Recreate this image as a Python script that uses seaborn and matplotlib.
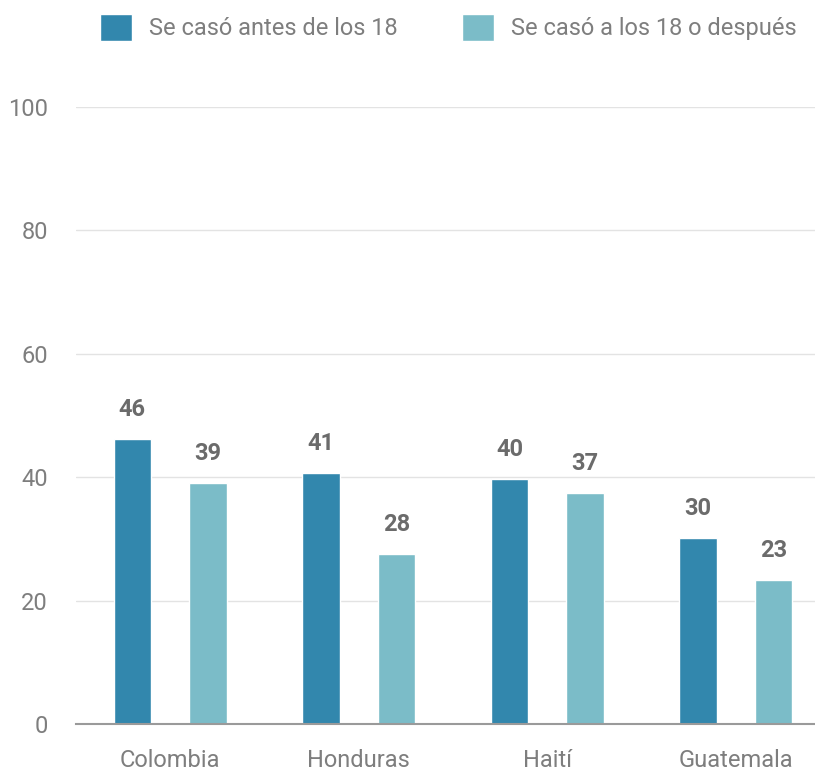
import pandas as pd
import matplotlib
matplotlib.use('Agg')
import matplotlib.pyplot as plt
import seaborn as sns

countries = ['Colombia', 'Honduras', 'Haití', 'Guatemala']
before_18 = [46.2, 40.7, 39.7, 30.1]
after_18 = [39.0, 27.6, 37.4, 23.3]
series = ['Se casó antes de los 18', 'Se casó a los 18 o después']
colors = ['#3287ad', '#7bbcc8']

df = pd.DataFrame({
    'pais': countries * 2,
    'valor': before_18 + after_18,
    'grupo': [series[0]] * 4 + [series[1]] * 4,
})

sns.set_theme(style='white')
plt.rcParams['font.family'] = ['Roboto', 'DejaVu Sans']

fig = plt.figure(figsize=(8.15, 7.73), dpi=100)
ax = fig.add_axes([0.093, 0.0634, 0.907, 0.7982])

sns.barplot(data=df, x='pais', y='valor', hue='grupo', order=countries,
            hue_order=series, palette=colors, width=0.8, gap=0.5,
            saturation=1, ax=ax)

# value labels on top of each bar
for cont in ax.containers:
    labels = [f'{round(v.get_height()):.0f}' for v in cont]
    ax.bar_label(cont, labels=labels, padding=13, fontsize=17,
                 fontweight='bold', color='#6b6b6b')

ax.set_ylim(0, 100)
ax.set_xlim(-0.5, 3.42)
ax.set_yticks([0, 20, 40, 60, 80, 100])
ax.yaxis.grid(True, color='#e3e3e3', linewidth=1)
ax.set_axisbelow(True)
ax.set_xlabel('')
ax.set_ylabel('')
ax.tick_params(axis='both', length=0, labelsize=17, labelcolor='#7e7e7e')
ax.tick_params(axis='x', pad=18)
ax.tick_params(axis='y', pad=20)

for side in ['left', 'right', 'top']:
    ax.spines[side].set_visible(False)
ax.spines['bottom'].set_color('#9a9a9a')
ax.spines['bottom'].set_linewidth(1.5)

sns.move_legend(ax, 'upper center', bbox_to_anchor=(0.55, 1.0),
                bbox_transform=fig.transFigure, ncol=2, frameon=False,
                title=None, fontsize=17, handlelength=1.35, handleheight=1.35,
                columnspacing=2.7, handletextpad=0.75,
                borderaxespad=0.2)
for t in ax.get_legend().get_texts():
    t.set_color('#7e7e7e')

fig.savefig('out.png', dpi=100)
